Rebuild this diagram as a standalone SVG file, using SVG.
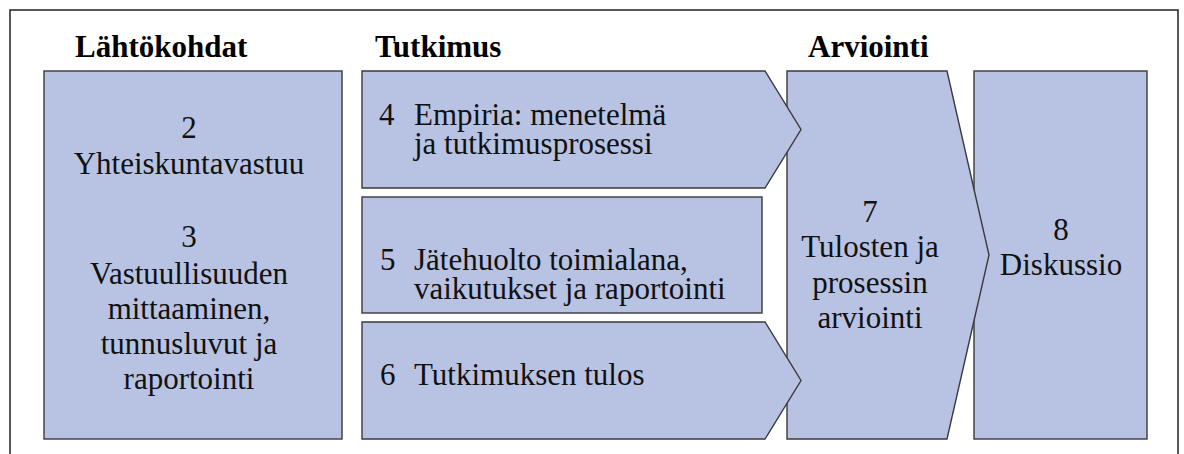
<svg xmlns="http://www.w3.org/2000/svg" width="1184" height="454" viewBox="0 0 1184 454" font-family="'Liberation Serif', 'DejaVu Serif', serif">
<style>
.box{fill:#B8C3E3;stroke:#3a3a3a;stroke-width:1.4;stroke-linejoin:miter}
text{font-family:'Liberation Serif','DejaVu Serif',serif;font-size:31px;fill:#111}
.h{font-weight:bold;fill:#000}
.c{text-anchor:middle}
</style>
<rect width="1184" height="454" fill="#fff"/>
<path id="frame" d="M10,456 V10 H1178 V456" fill="none" stroke="#222" stroke-width="1.5"/>
<g id="headings">
<text class="h" x="75" y="57">Lähtökohdat</text>
<text class="h" x="375" y="57">Tutkimus</text>
<text class="h" x="808" y="57">Arviointi</text>
</g>
<g id="node-lahtokohdat">
<rect class="box" x="44" y="71" width="298" height="368"/>
<text class="c" x="189" y="138">2</text>
<text class="c" x="189" y="174">Yhteiskuntavastuu</text>
<text class="c" x="189" y="247">3</text>
<text class="c" x="189" y="284">Vastuullisuuden</text>
<text class="c" x="189" y="319">mittaaminen,</text>
<text class="c" x="189" y="354">tunnusluvut ja</text>
<text class="c" x="189" y="389">raportointi</text>
</g>
<g id="node-diskussio">
<rect class="box" x="974" y="71" width="173" height="368"/>
<text class="c" x="1061" y="240">8</text>
<text class="c" x="1061" y="275">Diskussio</text>
</g>
<g id="node-arviointi">
<polygon class="box" points="787,71 947,71 989,255 947,439 787,439"/>
<text class="c" x="870" y="221.5">7</text>
<text class="c" x="870" y="257">Tulosten ja</text>
<text class="c" x="870" y="292.5">prosessin</text>
<text class="c" x="870" y="328">arviointi</text>
</g>
<g id="node-empiria">
<polygon class="box" points="362,71 765,71 801,129.5 765,188 362,188"/>
<text x="379" y="125">4</text>
<text x="414" y="125">Empiria: menetelmä</text>
<text x="414" y="154">ja tutkimusprosessi</text>
</g>
<g id="node-jatehuolto">
<rect class="box" x="362" y="197" width="400" height="116"/>
<text x="380" y="270">5</text>
<text x="414" y="270">Jätehuolto toimialana,</text>
<text x="414" y="298.5">vaikutukset ja raportointi</text>
</g>
<g id="node-tulos">
<polygon class="box" points="362,322 765,322 801,380.5 765,439 362,439"/>
<text x="380" y="385">6</text>
<text x="414" y="385">Tutkimuksen tulos</text>
</g>
<g id="connectors"/>
</svg>
